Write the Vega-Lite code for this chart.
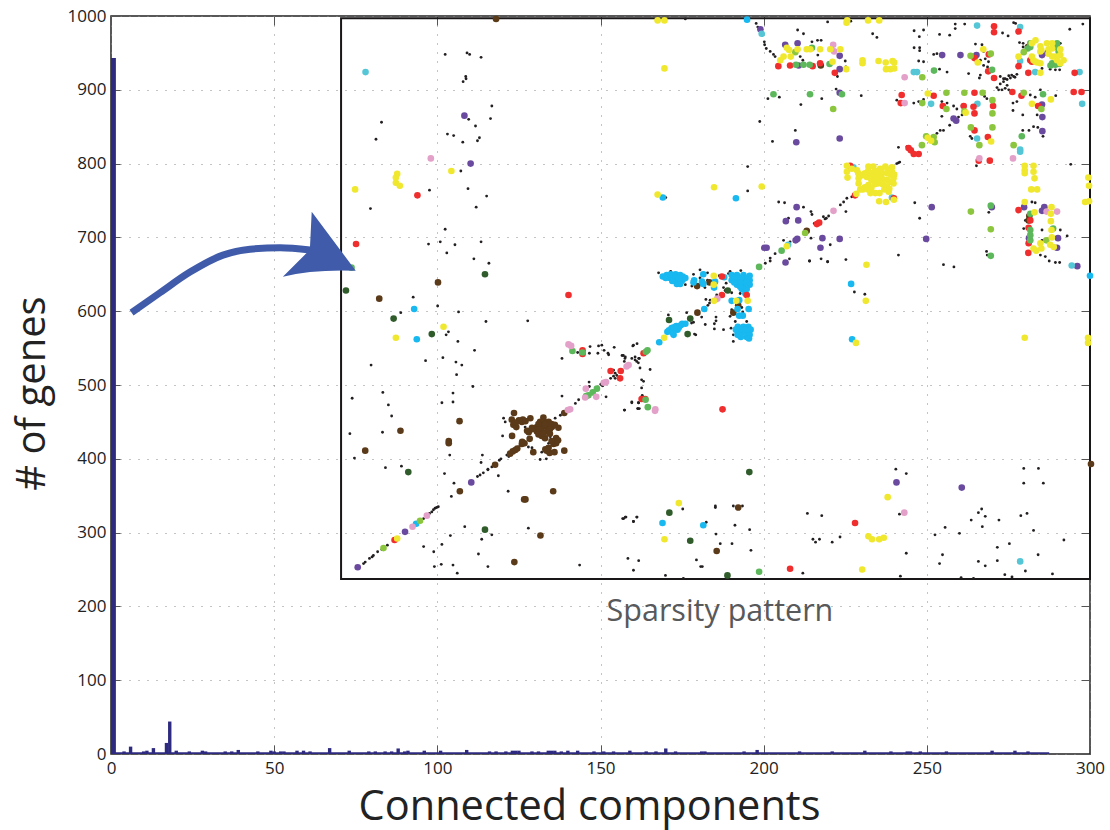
{"$schema":"https://vega.github.io/schema/vega-lite/v6.json","width":979,"height":738,"autosize":{"type":"none"},"padding":{"left":111,"top":16,"right":20,"bottom":76},"background":"white","config":{"view":{"stroke":"#222","strokeWidth":1.5},"font":"Open Sans"},"resolve":{"axis":{"x":"independent","y":"independent"}},
"datasets":{"bars":[{"x":4,"y":3.5},{"x":6,"y":10},{"x":10,"y":3.5},{"x":11,"y":4.5},{"x":13,"y":8},{"x":17,"y":15},{"x":18,"y":44},{"x":20,"y":4.5},{"x":24,"y":3.5},{"x":28,"y":4.5},{"x":29,"y":3.5},{"x":35,"y":3.5},{"x":37,"y":3.5},{"x":39,"y":5.5},{"x":45,"y":3.5},{"x":49,"y":4.5},{"x":50,"y":3.5},{"x":52,"y":3.5},{"x":53,"y":3.5},{"x":57,"y":4.5},{"x":59,"y":4.5},{"x":61,"y":3.5},{"x":67,"y":8},{"x":73,"y":4.5},{"x":79,"y":3.5},{"x":81,"y":3.5},{"x":84,"y":3.5},{"x":86,"y":3.5},{"x":88,"y":7.5},{"x":90,"y":3.5},{"x":91,"y":4.5},{"x":96,"y":4.5},{"x":101,"y":4.5},{"x":109,"y":5.5},{"x":116,"y":3.5},{"x":118,"y":3.5},{"x":121,"y":3.5},{"x":123,"y":4.5},{"x":124,"y":4.5},{"x":125,"y":4.5},{"x":129,"y":3.5},{"x":131,"y":3.5},{"x":134,"y":4.5},{"x":135,"y":4.5},{"x":136,"y":4.5},{"x":138,"y":3.5},{"x":140,"y":4.5},{"x":143,"y":4.5},{"x":148,"y":3.5},{"x":151,"y":3.5},{"x":154,"y":3.5},{"x":159,"y":4.5},{"x":164,"y":3.5},{"x":167,"y":3.5},{"x":170,"y":7.5},{"x":173,"y":3.5},{"x":181,"y":3.5},{"x":182,"y":3.5},{"x":194,"y":3.5},{"x":198,"y":5.5},{"x":211,"y":3.5},{"x":221,"y":3.5},{"x":231,"y":4.5},{"x":239,"y":3.5},{"x":244,"y":3.5},{"x":245,"y":3.5},{"x":248,"y":3.5},{"x":256,"y":3.5},{"x":270,"y":4.5},{"x":277,"y":4.5},{"x":281,"y":3.5}],
"firstbar":[{"x":0,"x2":1.5,"y":943}],
"baseline":[{"x":0.5,"y":1},{"x":287.5,"y":1}],
"inset":[{"x":70.5,"x2":300,"y":237,"y2":997}],
"shaft":[{"x":6.3,"y":598},{"x":15,"y":625},{"x":24.2,"y":653},{"x":34.3,"y":676},{"x":42.6,"y":684},{"x":51.8,"y":686},{"x":61,"y":683}],
"head":[{"x":64,"y":690}],
"label":[{"x":186.6,"y":192,"t":"Sparsity pattern"}],
"black":[{"x":102.4,"y":948},{"x":109.1,"y":950},{"x":109.9,"y":948},{"x":113.4,"y":944},{"x":108.7,"y":918},{"x":108.8,"y":915},{"x":107.9,"y":911},{"x":116.7,"y":878},{"x":82.9,"y":856},{"x":81.2,"y":833},{"x":116.3,"y":861},{"x":109.6,"y":860},{"x":111.7,"y":851},{"x":103.1,"y":840},{"x":105,"y":838},{"x":107.8,"y":829},{"x":112.9,"y":835},{"x":112.3,"y":831},{"x":107.2,"y":790},{"x":97.6,"y":764},{"x":109.4,"y":766},{"x":115.1,"y":756},{"x":79.5,"y":739},{"x":111.9,"y":741},{"x":102.4,"y":711},{"x":100.9,"y":694},{"x":97.3,"y":691},{"x":105.4,"y":690},{"x":113.4,"y":694},{"x":102.9,"y":679},{"x":111.2,"y":671},{"x":115.8,"y":665},{"x":92.6,"y":619},{"x":176,"y":996},{"x":170,"y":754},
{"x":100.1,"y":607},{"x":106.5,"y":599},{"x":88.8,"y":598},{"x":114.9,"y":586},{"x":127.7,"y":587},{"x":103.4,"y":572},{"x":102.7,"y":568},{"x":106.3,"y":559},{"x":111.4,"y":547},{"x":101.7,"y":537},{"x":96.4,"y":533},{"x":105.7,"y":531},{"x":107.5,"y":527},{"x":79.7,"y":527},{"x":105.9,"y":514},{"x":110.9,"y":498},{"x":83.3,"y":490},{"x":104.8,"y":489},{"x":73.9,"y":482},{"x":101.4,"y":476},{"x":104.8,"y":477},{"x":85,"y":473},{"x":86,"y":458},{"x":73.2,"y":434},{"x":83.2,"y":436},{"x":74.6,"y":401},{"x":103.8,"y":405},{"x":113.8,"y":405},{"x":113.4,"y":395},{"x":84.1,"y":388},{"x":89,"y":390},{"x":115.5,"y":386},{"x":114.1,"y":381},{"x":102.2,"y":380},{"x":118.7,"y":377},{"x":105.1,"y":367},{"x":121.7,"y":356},{"x":104.3,"y":349},{"x":108.4,"y":308},{"x":104,"y":296},{"x":116.7,"y":297},{"x":113.6,"y":291},{"x":127.9,"y":306},{"x":101.4,"y":284},{"x":95.8,"y":281},{"x":98.9,"y":274},{"x":112.6,"y":271},{"x":101.2,"y":257},{"x":99.1,"y":254},{"x":104.8,"y":256},{"x":115.5,"y":254},{"x":106.1,"y":245},{"x":143.6,"y":256},
{"x":77.4,"y":258},{"x":77.9,"y":260},{"x":79.2,"y":265},{"x":80.4,"y":269},{"x":80,"y":267},{"x":81.7,"y":274},{"x":83,"y":277},{"x":84.7,"y":283},{"x":98.3,"y":328},{"x":99.3,"y":333},{"x":100.3,"y":335},{"x":99.8,"y":334},{"x":98.8,"y":331},{"x":95.8,"y":319},{"x":97.6,"y":326},{"x":112.3,"y":376},{"x":113.1,"y":378},{"x":115.5,"y":385},{"x":116.7,"y":389},{"x":119,"y":398},{"x":119.5,"y":400},{"x":121.3,"y":405},{"x":121.9,"y":403},{"x":124.9,"y":416},{"x":126.5,"y":424},{"x":137.7,"y":459},{"x":142.3,"y":475},{"x":143.3,"y":480},{"x":150.4,"y":500},{"x":151.4,"y":503},{"x":120.3,"y":455},{"x":120.8,"y":450},{"x":120,"y":431},{"x":124.4,"y":448},{"x":126.9,"y":443},{"x":127.9,"y":416},{"x":129,"y":415},{"x":131.5,"y":399},{"x":133.4,"y":400},{"x":132,"y":409},{"x":134.1,"y":421},{"x":134.6,"y":430},{"x":136.1,"y":455},{"x":138.2,"y":485},{"x":151.7,"y":484},{"x":146.5,"y":504},{"x":146.6,"y":498},{"x":138.2,"y":536},{"x":146.8,"y":552},{"x":146.6,"y":543},{"x":143,"y":544},{"x":149.4,"y":553},{"x":150.4,"y":554},{"x":149.2,"y":543},{"x":151.1,"y":547},{"x":152.3,"y":543},{"x":152.5,"y":541},{"x":154.2,"y":551},{"x":156.6,"y":540},{"x":157.6,"y":538},{"x":159.6,"y":536},{"x":160.6,"y":534},{"x":161.7,"y":536},{"x":160.1,"y":554},{"x":161.2,"y":556},{"x":154,"y":520},{"x":155,"y":513},{"x":154.5,"y":509},{"x":157.4,"y":466},{"x":159.6,"y":476},{"x":161.7,"y":476},{"x":161.5,"y":468},{"x":157.1,"y":319},{"x":157.8,"y":321},{"x":160.1,"y":315},{"x":161.2,"y":321},{"x":158.4,"y":265},{"x":160.1,"y":249},{"x":161.7,"y":262},
{"x":159.9,"y":553},{"x":157,"y":540},{"x":157.5,"y":536},{"x":160.6,"y":538},{"x":161.9,"y":536},{"x":161.1,"y":532},{"x":161.6,"y":530},{"x":157.3,"y":532},{"x":162.1,"y":523},{"x":165.2,"y":521},{"x":162.6,"y":507},{"x":163.2,"y":505},{"x":162.6,"y":496},{"x":162.8,"y":486},{"x":161.6,"y":476},{"x":159.6,"y":477},{"x":161.4,"y":468},{"x":161.9,"y":468},{"x":157.3,"y":466},{"x":154.5,"y":516},{"x":154,"y":512},{"x":153.1,"y":509},{"x":150.1,"y":501},{"x":150.7,"y":499},
{"x":167.8,"y":652},{"x":171.5,"y":654},{"x":176.2,"y":647},{"x":176,"y":636},{"x":178.5,"y":650},{"x":180.5,"y":656},{"x":182.8,"y":652},{"x":180.5,"y":645},{"x":182,"y":632},{"x":178,"y":634},{"x":180.3,"y":636},{"x":182.8,"y":642},{"x":189.7,"y":654},{"x":193,"y":655},{"x":187.7,"y":632},{"x":188.5,"y":638},{"x":186.4,"y":648},{"x":189.2,"y":651},{"x":188.2,"y":628},{"x":190.2,"y":625},{"x":192.8,"y":624},{"x":185.6,"y":622},{"x":184.6,"y":613},{"x":182.3,"y":616},{"x":183.6,"y":615},{"x":182.9,"y":608},{"x":183.4,"y":611},{"x":182.1,"y":604},{"x":176.4,"y":598},{"x":170.8,"y":595},{"x":178.5,"y":585},{"x":181,"y":592},{"x":182.1,"y":582},{"x":185.4,"y":592},{"x":185.4,"y":587},{"x":184.9,"y":583},{"x":184.9,"y":576},{"x":187.7,"y":575},{"x":189.7,"y":593},{"x":190.2,"y":602},{"x":193.3,"y":605},{"x":193.6,"y":599},{"x":191.3,"y":586},{"x":190,"y":577},{"x":194.8,"y":586},{"x":190.7,"y":568},{"x":190.7,"y":559},{"x":178.8,"y":569},{"x":179.2,"y":568},{"x":177.9,"y":584},{"x":202,"y":668},{"x":214,"y":668},{"x":219.6,"y":667},{"x":227.8,"y":626},{"x":231,"y":623},
{"x":240.5,"y":386},{"x":243.7,"y":380},{"x":279.7,"y":387},{"x":284.2,"y":387},{"x":279.7,"y":367},{"x":285.7,"y":367},{"x":241.6,"y":325},{"x":266.8,"y":332},{"x":265.8,"y":327},{"x":267.9,"y":322},{"x":263.6,"y":317},{"x":272.1,"y":317},{"x":278.8,"y":323},{"x":280.7,"y":326},{"x":267,"y":308},{"x":255.6,"y":307},{"x":252.5,"y":297},{"x":260,"y":299},{"x":282.7,"y":303},{"x":292,"y":290},{"x":275.3,"y":285},{"x":271.6,"y":280},{"x":243.7,"y":272},{"x":254.8,"y":270},{"x":253.9,"y":258},{"x":265.8,"y":261},{"x":267.9,"y":255},{"x":271.6,"y":262},{"x":284.1,"y":270},{"x":280.2,"y":248},{"x":273.9,"y":243},{"x":276.1,"y":240},{"x":288.5,"y":244},{"x":260.5,"y":239},{"x":264.3,"y":238},{"x":241.9,"y":241},
{"x":156.8,"y":319},{"x":157.6,"y":321},{"x":161.1,"y":321},{"x":160.1,"y":315},{"x":169.9,"y":242},{"x":175.4,"y":238},{"x":175.2,"y":332},{"x":182.4,"y":314},{"x":185.2,"y":336},{"x":185.2,"y":334},{"x":190.7,"y":336},{"x":193.5,"y":336},{"x":191.2,"y":310},{"x":195.7,"y":304},{"x":185.4,"y":298},{"x":186.7,"y":285},{"x":190.3,"y":285},{"x":196.1,"y":276},{"x":179.4,"y":263},{"x":180.7,"y":254},{"x":181.2,"y":254},{"x":213.4,"y":326},{"x":217.8,"y":323},{"x":215.1,"y":291},{"x":217.1,"y":291},{"x":215.9,"y":287},{"x":221,"y":287},{"x":223.4,"y":294},{"x":212,"y":245},
{"x":197.7,"y":990},{"x":198.2,"y":985},{"x":219.6,"y":992},{"x":226.7,"y":993},{"x":210.4,"y":981},{"x":212.2,"y":976},{"x":200.2,"y":965},{"x":200.3,"y":961},{"x":200.8,"y":956},{"x":202,"y":952},{"x":203,"y":948},{"x":203.5,"y":945},{"x":214.8,"y":965},{"x":216.5,"y":967},{"x":217.6,"y":967},{"x":211.2,"y":945},{"x":212,"y":940},{"x":216.6,"y":947},{"x":225,"y":939},{"x":225.2,"y":931},{"x":222.6,"y":918},{"x":233.4,"y":976},{"x":234.7,"y":971},{"x":246.1,"y":980},{"x":247.7,"y":972},{"x":249,"y":981},{"x":246.1,"y":957},{"x":247.8,"y":957},{"x":247.8,"y":953},{"x":247.5,"y":939},{"x":249,"y":938},{"x":253.9,"y":975},{"x":257,"y":974},{"x":258.7,"y":989},{"x":258.7,"y":983},{"x":261.6,"y":989},{"x":252.1,"y":948},{"x":253.1,"y":949},{"x":253.9,"y":928},{"x":256.2,"y":924},{"x":273.2,"y":977},{"x":274.9,"y":973},{"x":276.6,"y":991},{"x":277.2,"y":990},{"x":293.8,"y":982},{"x":297.8,"y":989},{"x":264.9,"y":962},{"x":266.9,"y":961},{"x":267.4,"y":952},{"x":267.9,"y":942},{"x":268.9,"y":938},{"x":266.4,"y":940},{"x":267.4,"y":933},{"x":268.6,"y":931},{"x":266.4,"y":920},{"x":266.1,"y":916},{"x":262.8,"y":922},{"x":278.4,"y":964},{"x":279.5,"y":963},{"x":279.5,"y":958},{"x":290.9,"y":963},{"x":287.8,"y":928},{"x":289.4,"y":927},{"x":290.7,"y":927},{"x":285.3,"y":929},
{"x":271.5,"y":903},{"x":272.5,"y":908},{"x":273.5,"y":911},{"x":274.6,"y":914},{"x":275.6,"y":916},{"x":276.6,"y":918},{"x":277.6,"y":921},{"x":277,"y":917},{"x":274,"y":915},{"x":276,"y":920},{"x":272.5,"y":918},{"x":273.5,"y":915},{"x":275.1,"y":919},{"x":272,"y":900},{"x":273,"y":900},{"x":274,"y":902},{"x":274.6,"y":906},{"x":275.1,"y":900},{"x":222.2,"y":901},{"x":217.8,"y":888},{"x":211.4,"y":880},{"x":204.8,"y":890},{"x":201.3,"y":888},{"x":229.9,"y":892},{"x":198.8,"y":857},{"x":209.7,"y":845},{"x":202.7,"y":830},{"x":240.8,"y":886},{"x":246,"y":882},{"x":247.5,"y":884},{"x":249,"y":887},{"x":254.6,"y":884},{"x":256.2,"y":882},{"x":258.2,"y":878},{"x":259.2,"y":874},{"x":260.8,"y":878},{"x":259.7,"y":863},{"x":260.8,"y":866},{"x":254.6,"y":864},{"x":254.1,"y":845},{"x":255.1,"y":845},{"x":257,"y":852},{"x":253.1,"y":841},{"x":263.3,"y":837},{"x":263.8,"y":834},{"x":267.7,"y":891},{"x":268.4,"y":888},{"x":265.2,"y":797},{"x":276.4,"y":882},{"x":277.6,"y":884},{"x":276.4,"y":872},{"x":279.4,"y":866},{"x":283.8,"y":866},{"x":279.4,"y":845},{"x":282.7,"y":850},{"x":284,"y":849},{"x":281.3,"y":845},{"x":285.6,"y":837},{"x":281.7,"y":893},{"x":283.2,"y":890},{"x":289.5,"y":892},{"x":284.8,"y":900},{"x":241.3,"y":822},{"x":243.9,"y":823},{"x":241.3,"y":801},{"x":195.1,"y":796},{"x":195.1,"y":763},{"x":294.1,"y":799},{"x":204.6,"y":748},{"x":206.4,"y":747},{"x":212.2,"y":741},{"x":214.5,"y":735},{"x":214.8,"y":731},{"x":225.2,"y":735},{"x":246.3,"y":747},{"x":247.8,"y":726},{"x":269,"y":734},{"x":283.2,"y":747},{"x":282.2,"y":748},{"x":207.6,"y":726},{"x":206.1,"y":696},{"x":214.5,"y":699},{"x":220.4,"y":690},{"x":207.9,"y":671},{"x":214.1,"y":668},{"x":217.6,"y":671},{"x":219.6,"y":667},{"x":225.2,"y":670},{"x":241.3,"y":676},{"x":268.3,"y":681},{"x":268.5,"y":676},{"x":255.1,"y":663},{"x":258.3,"y":660},{"x":200.5,"y":665},{"x":202,"y":672},{"x":203.5,"y":678},{"x":208.1,"y":694},{"x":215.5,"y":719},{"x":218.3,"y":728},{"x":219.2,"y":726},{"x":219.9,"y":729},{"x":218.8,"y":725},{"x":223.5,"y":744},{"x":224.5,"y":748},{"x":225.5,"y":753},{"x":227,"y":755},{"x":240.8,"y":800},{"x":241.7,"y":802},{"x":285.3,"y":710},{"x":285.3,"y":696},{"x":290.9,"y":710},{"x":293,"y":702},{"x":284.8,"y":676},{"x":286.3,"y":674},{"x":287.5,"y":668},{"x":289.4,"y":666},{"x":290.7,"y":666},{"x":280.2,"y":723},{"x":279.7,"y":712},{"x":233,"y":762},{"x":228.5,"y":757}],
"dots":[
{"x":118,"y":996,"c":"brown"},{"x":100.2,"y":639,"c":"brown"},{"x":82.2,"y":617,"c":"brown"},{"x":106.8,"y":451,"c":"brown"},{"x":88.7,"y":438,"c":"brown"},{"x":103.5,"y":424,"c":"brown"},{"x":103.5,"y":421,"c":"brown"},{"x":77.9,"y":411,"c":"brown"},{"x":106.9,"y":356,"c":"brown"},{"x":117.7,"y":392,"c":"brown"},{"x":127,"y":345,"c":"brown"},{"x":126.6,"y":345,"c":"brown"},{"x":135.5,"y":356,"c":"brown"},{"x":131.6,"y":296,"c":"brown"},{"x":123.6,"y":260,"c":"brown"},{"x":123.5,"y":462,"c":"brown"},{"x":122.8,"y":453,"c":"brown"},{"x":123.3,"y":446,"c":"brown"},{"x":124.2,"y":443,"c":"brown"},{"x":126.2,"y":453,"c":"brown"},{"x":125.9,"y":450,"c":"brown"},{"x":128.5,"y":455,"c":"brown"},{"x":132.5,"y":456,"c":"brown"},{"x":131.5,"y":450,"c":"brown"},{"x":132.7,"y":450,"c":"brown"},{"x":134.1,"y":450,"c":"brown"},{"x":130.5,"y":443,"c":"brown"},{"x":132,"y":443,"c":"brown"},{"x":133.6,"y":443,"c":"brown"},{"x":135.1,"y":443,"c":"brown"},{"x":137.1,"y":442,"c":"brown"},{"x":129,"y":440,"c":"brown"},{"x":130.5,"y":437,"c":"brown"},{"x":132,"y":437,"c":"brown"},{"x":133.6,"y":437,"c":"brown"},{"x":132,"y":431,"c":"brown"},{"x":133,"y":428,"c":"brown"},{"x":122.9,"y":431,"c":"brown"},{"x":128.3,"y":427,"c":"brown"},{"x":126.7,"y":421,"c":"brown"},{"x":125.9,"y":420,"c":"brown"},{"x":136.4,"y":428,"c":"brown"},{"x":135.6,"y":420,"c":"brown"},{"x":136.4,"y":421,"c":"brown"},{"x":133.1,"y":413,"c":"brown"},{"x":134.4,"y":408,"c":"brown"},{"x":135.9,"y":409,"c":"brown"},{"x":138.9,"y":411,"c":"brown"},{"x":129.4,"y":409,"c":"brown"},{"x":123.9,"y":412,"c":"brown"},{"x":123.1,"y":410,"c":"brown"},{"x":122.3,"y":407,"c":"brown"},{"x":134.1,"y":415,"c":"brown"},{"x":138.9,"y":462,"c":"brown"},{"x":131,"y":447,"c":"brown"},{"x":133,"y":447,"c":"brown"},{"x":135,"y":447,"c":"brown"},{"x":131,"y":440,"c":"brown"},{"x":134.5,"y":440,"c":"brown"},{"x":132.5,"y":434,"c":"brown"},{"x":131,"y":433,"c":"brown"},{"x":134.5,"y":434,"c":"brown"},{"x":136,"y":446,"c":"brown"},{"x":128,"y":436,"c":"brown"},{"x":127.5,"y":438,"c":"brown"},{"x":125,"y":452,"c":"brown"},{"x":124,"y":449,"c":"brown"},{"x":127,"y":451,"c":"brown"},{"x":137,"y":425,"c":"brown"},{"x":135,"y":424,"c":"brown"},{"x":133.5,"y":411,"c":"brown"},{"x":126,"y":423,"c":"brown"},{"x":124.5,"y":414,"c":"brown"},{"x":129,"y":442,"c":"brown"},{"x":179.6,"y":634,"c":"brown"},{"x":183.4,"y":639,"c":"brown"},{"x":192.2,"y":608,"c":"brown"},{"x":190.7,"y":598,"c":"brown"},{"x":179.7,"y":598,"c":"brown"},{"x":192.2,"y":334,"c":"brown"},{"x":185.6,"y":275,"c":"brown"},{"x":300.3,"y":393,"c":"brown"},{"x":217.5,"y":933,"c":"brown"},{"x":213.2,"y":709,"c":"brown"},{"x":281.2,"y":723,"c":"brown"},{"x":281.4,"y":729,"c":"brown"},{"x":281,"y":958,"c":"brown"},
{"x":72,"y":628,"c":"dkgreen"},{"x":114.6,"y":650,"c":"dkgreen"},{"x":86.6,"y":590,"c":"dkgreen"},{"x":98.3,"y":569,"c":"dkgreen"},{"x":91.1,"y":382,"c":"dkgreen"},{"x":114.6,"y":304,"c":"dkgreen"},{"x":189,"y":628,"c":"dkgreen"},{"x":171,"y":588,"c":"dkgreen"},{"x":177.5,"y":590,"c":"dkgreen"},{"x":176.7,"y":569,"c":"dkgreen"},{"x":195.6,"y":382,"c":"dkgreen"},{"x":171.1,"y":327,"c":"dkgreen"},{"x":177.5,"y":289,"c":"dkgreen"},{"x":188.9,"y":242,"c":"dkgreen"},
{"x":108.3,"y":865,"c":"purple"},{"x":110.2,"y":800,"c":"purple"},{"x":110.4,"y":368,"c":"purple"},{"x":75.6,"y":253,"c":"purple"},{"x":90.1,"y":301,"c":"purple"},{"x":206.7,"y":666,"c":"purple"},{"x":240.7,"y":368,"c":"purple"},{"x":260.7,"y":361,"c":"purple"},{"x":199,"y":982,"c":"purple"},{"x":206.6,"y":961,"c":"purple"},{"x":210.4,"y":963,"c":"purple"},{"x":223.3,"y":946,"c":"purple"},{"x":223.3,"y":928,"c":"purple"},{"x":210.7,"y":933,"c":"purple"},{"x":254.7,"y":947,"c":"purple"},{"x":260.3,"y":947,"c":"purple"},{"x":265.2,"y":947,"c":"purple"},{"x":285.3,"y":947,"c":"purple"},{"x":287,"y":950,"c":"purple"},{"x":223.3,"y":896,"c":"purple"},{"x":259,"y":858,"c":"purple"},{"x":258.2,"y":861,"c":"purple"},{"x":285.3,"y":880,"c":"purple"},{"x":285.4,"y":863,"c":"purple"},{"x":285.4,"y":844,"c":"purple"},{"x":223.3,"y":834,"c":"purple"},{"x":210,"y":829,"c":"purple"},{"x":210.1,"y":741,"c":"purple"},{"x":206.8,"y":722,"c":"purple"},{"x":210.6,"y":723,"c":"purple"},{"x":210.3,"y":698,"c":"purple"},{"x":209.8,"y":696,"c":"purple"},{"x":218,"y":699,"c":"purple"},{"x":223.3,"y":698,"c":"purple"},{"x":217.4,"y":686,"c":"purple"},{"x":200.9,"y":686,"c":"purple"},{"x":200.2,"y":686,"c":"purple"},{"x":249.8,"y":698,"c":"purple"},{"x":251.5,"y":741,"c":"purple"},{"x":269.9,"y":741,"c":"purple"},{"x":279.8,"y":741,"c":"purple"},{"x":286,"y":741,"c":"purple"},{"x":285.3,"y":736,"c":"purple"},{"x":290.2,"y":699,"c":"purple"},{"x":289.9,"y":686,"c":"purple"},{"x":281.3,"y":699,"c":"purple"},{"x":296.1,"y":661,"c":"purple"},
{"x":78,"y":924,"c":"teal"},{"x":199.4,"y":976,"c":"teal"},{"x":246,"y":924,"c":"teal"},{"x":247,"y":924,"c":"teal"},{"x":265.4,"y":987,"c":"teal"},{"x":278.6,"y":985,"c":"teal"},{"x":278.6,"y":939,"c":"teal"},{"x":283.2,"y":924,"c":"teal"},{"x":296.8,"y":924,"c":"teal"},{"x":251.3,"y":881,"c":"teal"},{"x":265.5,"y":881,"c":"teal"},{"x":265.4,"y":834,"c":"teal"},{"x":278.6,"y":819,"c":"teal"},{"x":278.6,"y":816,"c":"teal"},{"x":297.6,"y":881,"c":"teal"},{"x":227.5,"y":795,"c":"teal"},{"x":239.3,"y":754,"c":"teal"},{"x":294.4,"y":662,"c":"teal"},{"x":278.6,"y":261,"c":"teal"},{"x":207.5,"y":690,"c":"teal"},
{"x":169.1,"y":754,"c":"cyan"},{"x":191.5,"y":753,"c":"cyan"},{"x":92.9,"y":603,"c":"cyan"},{"x":93.7,"y":562,"c":"cyan"},{"x":93.5,"y":312,"c":"cyan"},{"x":169.1,"y":647,"c":"cyan"},{"x":170.3,"y":649,"c":"cyan"},{"x":172.4,"y":647,"c":"cyan"},{"x":174.4,"y":649,"c":"cyan"},{"x":175.2,"y":647,"c":"cyan"},{"x":172.9,"y":641,"c":"cyan"},{"x":173.9,"y":641,"c":"cyan"},{"x":174.9,"y":641,"c":"cyan"},{"x":173.4,"y":637,"c":"cyan"},{"x":174.4,"y":637,"c":"cyan"},{"x":171.3,"y":645,"c":"cyan"},{"x":170,"y":645,"c":"cyan"},{"x":171.5,"y":650,"c":"cyan"},{"x":173,"y":650,"c":"cyan"},{"x":173,"y":645,"c":"cyan"},{"x":175.5,"y":644,"c":"cyan"},{"x":172,"y":641,"c":"cyan"},{"x":174,"y":645,"c":"cyan"},{"x":176,"y":645,"c":"cyan"},{"x":181.5,"y":650,"c":"cyan"},{"x":178.7,"y":642,"c":"cyan"},{"x":178.5,"y":639,"c":"cyan"},{"x":181.1,"y":640,"c":"cyan"},{"x":181.5,"y":637,"c":"cyan"},{"x":185.1,"y":640,"c":"cyan"},{"x":184.8,"y":632,"c":"cyan"},{"x":187.9,"y":646,"c":"cyan"},{"x":190.2,"y":649,"c":"cyan"},{"x":191.8,"y":649,"c":"cyan"},{"x":193.8,"y":649,"c":"cyan"},{"x":195.7,"y":648,"c":"cyan"},{"x":190.2,"y":642,"c":"cyan"},{"x":191.8,"y":642,"c":"cyan"},{"x":193.8,"y":642,"c":"cyan"},{"x":195.7,"y":642,"c":"cyan"},{"x":191.8,"y":636,"c":"cyan"},{"x":193.8,"y":636,"c":"cyan"},{"x":195.7,"y":636,"c":"cyan"},{"x":193.3,"y":630,"c":"cyan"},{"x":194.8,"y":630,"c":"cyan"},{"x":191,"y":645,"c":"cyan"},{"x":193,"y":645,"c":"cyan"},{"x":195,"y":645,"c":"cyan"},{"x":192.8,"y":639,"c":"cyan"},{"x":194.8,"y":639,"c":"cyan"},{"x":191,"y":639,"c":"cyan"},{"x":192.8,"y":633,"c":"cyan"},{"x":194.4,"y":624,"c":"cyan"},{"x":190.2,"y":614,"c":"cyan"},{"x":192.5,"y":615,"c":"cyan"},{"x":192,"y":603,"c":"cyan"},{"x":195.4,"y":603,"c":"cyan"},{"x":192.5,"y":594,"c":"cyan"},{"x":193.6,"y":594,"c":"cyan"},{"x":181.8,"y":603,"c":"cyan"},{"x":168,"y":558,"c":"cyan"},{"x":170.5,"y":572,"c":"cyan"},{"x":171.8,"y":577,"c":"cyan"},{"x":173.2,"y":580,"c":"cyan"},{"x":174.6,"y":581,"c":"cyan"},{"x":172.4,"y":568,"c":"cyan"},{"x":173.6,"y":575,"c":"cyan"},{"x":171,"y":574,"c":"cyan"},{"x":172.5,"y":574,"c":"cyan"},{"x":172,"y":571,"c":"cyan"},{"x":174,"y":578,"c":"cyan"},{"x":172.5,"y":578,"c":"cyan"},{"x":175,"y":583,"c":"cyan"},{"x":176,"y":583,"c":"cyan"},{"x":192.1,"y":579,"c":"cyan"},{"x":193.8,"y":579,"c":"cyan"},{"x":195.3,"y":579,"c":"cyan"},{"x":192.1,"y":572,"c":"cyan"},{"x":193.8,"y":572,"c":"cyan"},{"x":195.3,"y":572,"c":"cyan"},{"x":194.8,"y":565,"c":"cyan"},{"x":193,"y":575,"c":"cyan"},{"x":192,"y":568,"c":"cyan"},{"x":193,"y":565,"c":"cyan"},{"x":195.7,"y":568,"c":"cyan"},{"x":195.5,"y":563,"c":"cyan"},{"x":191.5,"y":575,"c":"cyan"},{"x":194.5,"y":575,"c":"cyan"},{"x":196,"y":575,"c":"cyan"},{"x":226.8,"y":637,"c":"cyan"},{"x":227.1,"y":562,"c":"cyan"},{"x":300,"y":648,"c":"cyan"},{"x":194.9,"y":995,"c":"cyan"},{"x":169,"y":313,"c":"cyan"},{"x":181.5,"y":310,"c":"cyan"},
{"x":93.9,"y":757,"c":"red"},{"x":75.1,"y":691,"c":"red"},{"x":140.2,"y":622,"c":"red"},{"x":86.9,"y":290,"c":"red"},{"x":144.5,"y":547,"c":"red"},{"x":144.5,"y":542,"c":"red"},{"x":153.1,"y":519,"c":"red"},{"x":156.2,"y":519,"c":"red"},{"x":156,"y":509,"c":"red"},{"x":187.2,"y":647,"c":"red"},{"x":187.2,"y":622,"c":"red"},{"x":194.8,"y":622,"c":"red"},{"x":163.2,"y":543,"c":"red"},{"x":163.7,"y":481,"c":"red"},{"x":162.6,"y":481,"c":"red"},{"x":187.4,"y":467,"c":"red"},{"x":228,"y":313,"c":"red"},{"x":208.1,"y":251,"c":"red"},{"x":204.5,"y":932,"c":"red"},{"x":208.1,"y":933,"c":"red"},{"x":217.3,"y":936,"c":"red"},{"x":215,"y":932,"c":"red"},{"x":221.8,"y":923,"c":"red"},{"x":270.6,"y":986,"c":"red"},{"x":270.6,"y":978,"c":"red"},{"x":278.1,"y":979,"c":"red"},{"x":264.6,"y":943,"c":"red"},{"x":269,"y":948,"c":"red"},{"x":268.8,"y":925,"c":"red"},{"x":270.6,"y":916,"c":"red"},{"x":281.7,"y":940,"c":"red"},{"x":282.2,"y":938,"c":"red"},{"x":281.1,"y":923,"c":"red"},{"x":278.1,"y":932,"c":"red"},{"x":295.3,"y":923,"c":"red"},{"x":242.3,"y":893,"c":"red"},{"x":242,"y":882,"c":"red"},{"x":252.1,"y":892,"c":"red"},{"x":254.9,"y":878,"c":"red"},{"x":264.6,"y":896,"c":"red"},{"x":261.3,"y":878,"c":"red"},{"x":264.3,"y":877,"c":"red"},{"x":264.6,"y":868,"c":"red"},{"x":264.6,"y":845,"c":"red"},{"x":270.3,"y":878,"c":"red"},{"x":268.7,"y":836,"c":"red"},{"x":269.3,"y":804,"c":"red"},{"x":265.9,"y":804,"c":"red"},{"x":276.2,"y":897,"c":"red"},{"x":279,"y":892,"c":"red"},{"x":284.1,"y":878,"c":"red"},{"x":295,"y":897,"c":"red"},{"x":297.4,"y":897,"c":"red"},{"x":244.4,"y":821,"c":"red"},{"x":245.1,"y":818,"c":"red"},{"x":246,"y":813,"c":"red"},{"x":247.5,"y":813,"c":"red"},{"x":226.5,"y":797,"c":"red"},{"x":239.9,"y":753,"c":"red"},{"x":228,"y":757,"c":"red"},{"x":216.3,"y":718,"c":"red"},{"x":217,"y":720,"c":"red"},{"x":278.1,"y":737,"c":"red"},{"x":281.7,"y":723,"c":"red"},{"x":281.2,"y":713,"c":"red"},{"x":281.2,"y":692,"c":"red"},{"x":281.1,"y":679,"c":"red"},
{"x":73.7,"y":659,"c":"green"},{"x":145.6,"y":485,"c":"green"},{"x":146.3,"y":486,"c":"green"},{"x":147.6,"y":490,"c":"green"},{"x":148.9,"y":495,"c":"green"},{"x":141.4,"y":546,"c":"green"},{"x":144.5,"y":544,"c":"green"},{"x":198.6,"y":660,"c":"green"},{"x":163.9,"y":545,"c":"green"},{"x":164.4,"y":547,"c":"green"},{"x":163.8,"y":480,"c":"green"},{"x":164.5,"y":470,"c":"green"},{"x":198.6,"y":247,"c":"green"},{"x":214.8,"y":957,"c":"green"},{"x":209.9,"y":934,"c":"green"},{"x":212.2,"y":934,"c":"green"},{"x":214.1,"y":934,"c":"green"},{"x":220.2,"y":935,"c":"green"},{"x":252.2,"y":926,"c":"green"},{"x":270,"y":927,"c":"green"},{"x":281.7,"y":958,"c":"green"},{"x":280.9,"y":956,"c":"green"},{"x":281.7,"y":963,"c":"green"},{"x":289.9,"y":958,"c":"green"},{"x":289.9,"y":963,"c":"green"},{"x":290.4,"y":952,"c":"green"},{"x":287.9,"y":933,"c":"green"},{"x":288.4,"y":936,"c":"green"},{"x":289.4,"y":934,"c":"green"},{"x":290.6,"y":935,"c":"green"},{"x":203,"y":894,"c":"green"},{"x":214.2,"y":894,"c":"green"},{"x":224,"y":894,"c":"green"},{"x":285.6,"y":894,"c":"green"},{"x":279.1,"y":837,"c":"green"},{"x":205.5,"y":682,"c":"green"},{"x":269.6,"y":675,"c":"green"},{"x":269.6,"y":743,"c":"green"},{"x":281.7,"y":732,"c":"green"},{"x":281.7,"y":710,"c":"green"},{"x":281.7,"y":703,"c":"green"},{"x":281.7,"y":696,"c":"green"},{"x":288.7,"y":712,"c":"green"},
{"x":83.5,"y":279,"c":"lime"},{"x":94.7,"y":316,"c":"lime"},{"x":209.7,"y":951,"c":"lime"},{"x":248.6,"y":917,"c":"lime"},{"x":263.4,"y":946,"c":"lime"},{"x":269.6,"y":949,"c":"lime"},{"x":279.7,"y":951,"c":"lime"},{"x":221.3,"y":874,"c":"lime"},{"x":248.6,"y":882,"c":"lime"},{"x":256,"y":896,"c":"lime"},{"x":256,"y":874,"c":"lime"},{"x":261.5,"y":896,"c":"lime"},{"x":261.5,"y":871,"c":"lime"},{"x":267.1,"y":896,"c":"lime"},{"x":270.1,"y":886,"c":"lime"},{"x":270.1,"y":868,"c":"lime"},{"x":270.1,"y":849,"c":"lime"},{"x":263.5,"y":849,"c":"lime"},{"x":279.7,"y":896,"c":"lime"},{"x":276.6,"y":825,"c":"lime"},{"x":285.1,"y":874,"c":"lime"},{"x":249.8,"y":837,"c":"lime"},{"x":252.1,"y":836,"c":"lime"},{"x":252.4,"y":829,"c":"lime"},{"x":248.5,"y":825,"c":"lime"},{"x":266.1,"y":825,"c":"lime"},{"x":212.7,"y":706,"c":"lime"},{"x":263.5,"y":735,"c":"lime"},{"x":269.6,"y":711,"c":"lime"},{"x":286.6,"y":696,"c":"lime"},
{"x":98,"y":807,"c":"pink"},{"x":92.4,"y":308,"c":"pink"},{"x":96.8,"y":323,"c":"pink"},{"x":140,"y":466,"c":"pink"},{"x":140.7,"y":467,"c":"pink"},{"x":145.5,"y":495,"c":"pink"},{"x":145.3,"y":483,"c":"pink"},{"x":148.7,"y":484,"c":"pink"},{"x":151.7,"y":504,"c":"pink"},{"x":151,"y":503,"c":"pink"},{"x":140.2,"y":555,"c":"pink"},{"x":141,"y":553,"c":"pink"},{"x":158.6,"y":527,"c":"pink"},{"x":158,"y":525,"c":"pink"},{"x":185.8,"y":617,"c":"pink"},{"x":166.8,"y":467,"c":"pink"},{"x":166.7,"y":465,"c":"pink"},{"x":243.1,"y":327,"c":"pink"},{"x":221.3,"y":961,"c":"pink"},{"x":221.6,"y":952,"c":"pink"},{"x":243.2,"y":917,"c":"pink"},{"x":243.2,"y":882,"c":"pink"},{"x":276.4,"y":807,"c":"pink"},{"x":266.1,"y":807,"c":"pink"},{"x":221.4,"y":736,"c":"pink"},{"x":286.7,"y":735,"c":"pink"},{"x":289.9,"y":735,"c":"pink"},
{"x":167.5,"y":994,"c":"yellow"},{"x":169.6,"y":994,"c":"yellow"},{"x":169.6,"y":929,"c":"yellow"},{"x":104.3,"y":790,"c":"yellow"},{"x":87.7,"y":786,"c":"yellow"},{"x":87.3,"y":781,"c":"yellow"},{"x":87.3,"y":774,"c":"yellow"},{"x":88.5,"y":770,"c":"yellow"},{"x":74.8,"y":765,"c":"yellow"},{"x":167.5,"y":758,"c":"yellow"},{"x":184.8,"y":768,"c":"yellow"},{"x":101.9,"y":579,"c":"yellow"},{"x":87.3,"y":564,"c":"yellow"},{"x":87.7,"y":292,"c":"yellow"},{"x":184.7,"y":648,"c":"yellow"},{"x":184.7,"y":636,"c":"yellow"},{"x":184.8,"y":614,"c":"yellow"},{"x":191.6,"y":614,"c":"yellow"},{"x":195.1,"y":614,"c":"yellow"},{"x":169.5,"y":564,"c":"yellow"},{"x":231.5,"y":663,"c":"yellow"},{"x":231.3,"y":614,"c":"yellow"},{"x":228.3,"y":557,"c":"yellow"},{"x":280,"y":564,"c":"yellow"},{"x":299.4,"y":564,"c":"yellow"},{"x":299.4,"y":557,"c":"yellow"},{"x":238,"y":348,"c":"yellow"},{"x":232.1,"y":295,"c":"yellow"},{"x":233.2,"y":291,"c":"yellow"},{"x":235.4,"y":291,"c":"yellow"},{"x":236.8,"y":293,"c":"yellow"},{"x":230.2,"y":250,"c":"yellow"},{"x":174,"y":340,"c":"yellow"},{"x":169.6,"y":291,"c":"yellow"},
{"x":207.1,"y":957,"c":"yellow"},{"x":207.8,"y":954,"c":"yellow"},{"x":210.4,"y":955,"c":"yellow"},{"x":213.2,"y":955,"c":"yellow"},{"x":214.3,"y":955,"c":"yellow"},{"x":217.3,"y":955,"c":"yellow"},{"x":220.4,"y":955,"c":"yellow"},{"x":223.5,"y":955,"c":"yellow"},{"x":206.1,"y":945,"c":"yellow"},{"x":205.1,"y":940,"c":"yellow"},{"x":208.3,"y":945,"c":"yellow"},{"x":221.1,"y":938,"c":"yellow"},{"x":225.4,"y":991,"c":"yellow"},{"x":225.6,"y":994,"c":"yellow"},{"x":232,"y":994,"c":"yellow"},{"x":235.4,"y":994,"c":"yellow"},{"x":225.3,"y":928,"c":"yellow"},{"x":230.3,"y":940,"c":"yellow"},{"x":230.3,"y":936,"c":"yellow"},{"x":235.2,"y":939,"c":"yellow"},{"x":237.4,"y":937,"c":"yellow"},{"x":239.5,"y":939,"c":"yellow"},{"x":240,"y":937,"c":"yellow"},{"x":237.5,"y":928,"c":"yellow"},{"x":238.8,"y":928,"c":"yellow"},{"x":240,"y":929,"c":"yellow"},{"x":265.6,"y":937,"c":"yellow"},{"x":267.3,"y":955,"c":"yellow"},{"x":283.3,"y":967,"c":"yellow"},{"x":282.2,"y":963,"c":"yellow"},{"x":284.8,"y":959,"c":"yellow"},{"x":285.1,"y":954,"c":"yellow"},{"x":288.4,"y":963,"c":"yellow"},{"x":287.3,"y":955,"c":"yellow"},{"x":288.4,"y":956,"c":"yellow"},{"x":290.9,"y":955,"c":"yellow"},{"x":287.3,"y":949,"c":"yellow"},{"x":289.4,"y":945,"c":"yellow"},{"x":282.2,"y":945,"c":"yellow"},{"x":282.7,"y":940,"c":"yellow"},{"x":283.8,"y":937,"c":"yellow"},{"x":284.8,"y":936,"c":"yellow"},{"x":291.9,"y":940,"c":"yellow"},{"x":290.9,"y":936,"c":"yellow"},{"x":278.1,"y":945,"c":"yellow"},{"x":284.8,"y":923,"c":"yellow"},{"x":286.8,"y":963,"c":"yellow"},{"x":284.8,"y":952,"c":"yellow"},{"x":283.3,"y":938,"c":"yellow"},{"x":289.9,"y":940,"c":"yellow"},{"x":288.4,"y":945,"c":"yellow"},{"x":290.9,"y":947,"c":"yellow"},{"x":250.3,"y":895,"c":"yellow"},{"x":261.9,"y":869,"c":"yellow"},{"x":269.7,"y":830,"c":"yellow"},{"x":282.2,"y":881,"c":"yellow"},{"x":288,"y":887,"c":"yellow"},{"x":250.3,"y":835,"c":"yellow"},{"x":251.3,"y":831,"c":"yellow"},
{"x":225.5,"y":797,"c":"yellow"},{"x":225.5,"y":789,"c":"yellow"},{"x":225.7,"y":781,"c":"yellow"},{"x":229,"y":787,"c":"yellow"},{"x":229.1,"y":780,"c":"yellow"},{"x":229.1,"y":773,"c":"yellow"},{"x":229.6,"y":765,"c":"yellow"},{"x":230.4,"y":765,"c":"yellow"},{"x":228.4,"y":759,"c":"yellow"},{"x":232.1,"y":796,"c":"yellow"},{"x":233.6,"y":796,"c":"yellow"},{"x":235.7,"y":793,"c":"yellow"},{"x":237.3,"y":796,"c":"yellow"},{"x":239.3,"y":795,"c":"yellow"},{"x":231.6,"y":782,"c":"yellow"},{"x":233.2,"y":782,"c":"yellow"},{"x":234.7,"y":784,"c":"yellow"},{"x":236.2,"y":787,"c":"yellow"},{"x":237.8,"y":787,"c":"yellow"},{"x":239.3,"y":789,"c":"yellow"},{"x":234.7,"y":778,"c":"yellow"},{"x":236.2,"y":780,"c":"yellow"},{"x":237.8,"y":778,"c":"yellow"},{"x":239.8,"y":780,"c":"yellow"},{"x":232.1,"y":771,"c":"yellow"},{"x":237.8,"y":769,"c":"yellow"},{"x":239.8,"y":773,"c":"yellow"},{"x":232.7,"y":760,"c":"yellow"},{"x":234.2,"y":760,"c":"yellow"},{"x":235.5,"y":760,"c":"yellow"},{"x":238.3,"y":762,"c":"yellow"},{"x":235.4,"y":749,"c":"yellow"},{"x":237.5,"y":748,"c":"yellow"},{"x":239.9,"y":751,"c":"yellow"},{"x":228.6,"y":791,"c":"yellow"},{"x":232,"y":790,"c":"yellow"},{"x":234,"y":790,"c":"yellow"},{"x":236,"y":792,"c":"yellow"},{"x":238,"y":792,"c":"yellow"},{"x":231,"y":787,"c":"yellow"},{"x":233,"y":787,"c":"yellow"},{"x":235,"y":790,"c":"yellow"},{"x":233,"y":778,"c":"yellow"},{"x":235,"y":773,"c":"yellow"},{"x":236.5,"y":772,"c":"yellow"},{"x":238.5,"y":775,"c":"yellow"},{"x":236,"y":776,"c":"yellow"},{"x":234,"y":772,"c":"yellow"},{"x":232,"y":765,"c":"yellow"},{"x":233,"y":767,"c":"yellow"},{"x":239,"y":785,"c":"yellow"},{"x":231,"y":768,"c":"yellow"},{"x":237,"y":765,"c":"yellow"},{"x":238.5,"y":766,"c":"yellow"},{"x":240,"y":785,"c":"yellow"},{"x":230,"y":784,"c":"yellow"},{"x":227,"y":793,"c":"yellow"},{"x":199.4,"y":769,"c":"yellow"},{"x":207.1,"y":688,"c":"yellow"},{"x":280,"y":797,"c":"yellow"},{"x":280,"y":791,"c":"yellow"},{"x":280,"y":787,"c":"yellow"},{"x":282.7,"y":797,"c":"yellow"},{"x":282.7,"y":789,"c":"yellow"},{"x":283,"y":780,"c":"yellow"},{"x":282,"y":765,"c":"yellow"},{"x":283.8,"y":765,"c":"yellow"},{"x":299.5,"y":781,"c":"yellow"},{"x":299.7,"y":770,"c":"yellow"},{"x":298.5,"y":748,"c":"yellow"},{"x":299.7,"y":749,"c":"yellow"},{"x":280,"y":748,"c":"yellow"},{"x":283,"y":734,"c":"yellow"},{"x":288.2,"y":741,"c":"yellow"},{"x":288,"y":722,"c":"yellow"},{"x":288,"y":732,"c":"yellow"},{"x":288.2,"y":710,"c":"yellow"},{"x":288.3,"y":700,"c":"yellow"},{"x":287.8,"y":690,"c":"yellow"},{"x":288.9,"y":687,"c":"yellow"},{"x":284.8,"y":692,"c":"yellow"},{"x":285.1,"y":685,"c":"yellow"},{"x":282.7,"y":685,"c":"yellow"},{"x":283.5,"y":682,"c":"yellow"}]},
"layer":[
{"data":{"name":"bars"},"mark":{"type":"bar","size":3.4,"color":"#2e2a80"},"encoding":{"x":{"field":"x","type":"quantitative","scale":{"domain":[0,300],"nice":false,"padding":0},"axis":{"orient":"bottom","values":[0,50,100,150,200,250,300],"format":"d","title":"Connected components","titleFontSize":41.5,"titleFont":"Open Sans","titleFontWeight":"normal","titleColor":"#222","titleX":478,"titleY":32,"labelFontSize":17,"labelColor":"#222","labelPadding":15,"labelFlush":false,"tickSize":-9,"tickColor":"#555","tickWidth":1,"domain":false,"grid":true,"gridDash":[1,8],"gridColor":"#888","gridWidth":1}},"y":{"field":"y","type":"quantitative","scale":{"domain":[0,1000],"nice":false,"padding":0},"axis":{"orient":"left","values":[0,100,200,300,400,500,600,700,800,900,1000],"format":"d","title":"# of genes","titleFontSize":40,"titleFont":"Open Sans","titleFontWeight":"normal","titleColor":"#222","titleY":377,"titleX":-59,"labelFontSize":17,"labelColor":"#222","labelPadding":14,"tickSize":-9,"tickColor":"#555","tickWidth":1,"domain":false,"grid":true,"gridDash":[1,8],"gridColor":"#888","gridWidth":1}}}},
{"data":{"name":"firstbar"},"mark":{"type":"bar","color":"#2e2a80"},"encoding":{"x":{"field":"x","type":"quantitative","axis":null},"x2":{"field":"x2"},"y":{"field":"y","type":"quantitative","axis":null},"y2":{"datum":0}}},
{"data":{"name":"baseline"},"mark":{"type":"line","color":"#2e2a80","strokeWidth":2,"clip":true},"encoding":{"x":{"field":"x","type":"quantitative","axis":{"orient":"top","values":[0,50,100,150,200,250,300],"labels":false,"title":null,"tickSize":-9,"tickColor":"#555","domain":false,"grid":false}},"y":{"field":"y","type":"quantitative","axis":{"orient":"right","values":[0,100,200,300,400,500,600,700,800,900,1000],"labels":false,"title":null,"tickSize":-9,"tickColor":"#555","domain":false,"grid":false}}}},
{"data":{"name":"inset"},"mark":{"type":"rect","fillOpacity":0,"stroke":"#1a1718","strokeWidth":2},"encoding":{"x":{"field":"x","type":"quantitative","axis":null},"x2":{"field":"x2"},"y":{"field":"y","type":"quantitative","axis":null},"y2":{"field":"y2"}}},
{"data":{"name":"black"},"mark":{"type":"circle","size":8,"color":"#231f20","opacity":1},"encoding":{"x":{"field":"x","type":"quantitative","axis":null},"y":{"field":"y","type":"quantitative","axis":null}}},
{"data":{"name":"dots"},"mark":{"type":"circle","size":44,"opacity":1},"encoding":{"x":{"field":"x","type":"quantitative","axis":null},"y":{"field":"y","type":"quantitative","axis":null},"color":{"field":"c","type":"nominal","legend":null,"scale":{"domain":["brown","dkgreen","purple","teal","cyan","red","green","lime","pink","yellow"],"range":["#5a3a18","#2f5c2a","#6a4a9e","#55c6d6","#18b8f0","#f02e2e","#5cb85a","#8cc63f","#e3a0c8","#f0e82e"]}}}},
{"data":{"name":"shaft"},"mark":{"type":"line","color":"#3f5ba9","strokeWidth":7,"interpolate":"monotone"},"encoding":{"x":{"field":"x","type":"quantitative","axis":null},"y":{"field":"y","type":"quantitative","axis":null}}},
{"data":{"name":"head"},"mark":{"type":"point","filled":true,"shape":"M.97 .7 L-.22 -.89 L-.27 .135 L-1 .865 Q-.2 .66 .97 .7Z","size":5476,"color":"#3f5ba9","opacity":1,"strokeWidth":0},"encoding":{"x":{"field":"x","type":"quantitative","axis":null},"y":{"field":"y","type":"quantitative","axis":null}}},
{"data":{"name":"label"},"mark":{"type":"text","fontSize":30.5,"font":"Open Sans","color":"#58595b","align":"center","baseline":"middle"},"encoding":{"x":{"field":"x","type":"quantitative","axis":null},"y":{"field":"y","type":"quantitative","axis":null},"text":{"field":"t"}}}
]}
